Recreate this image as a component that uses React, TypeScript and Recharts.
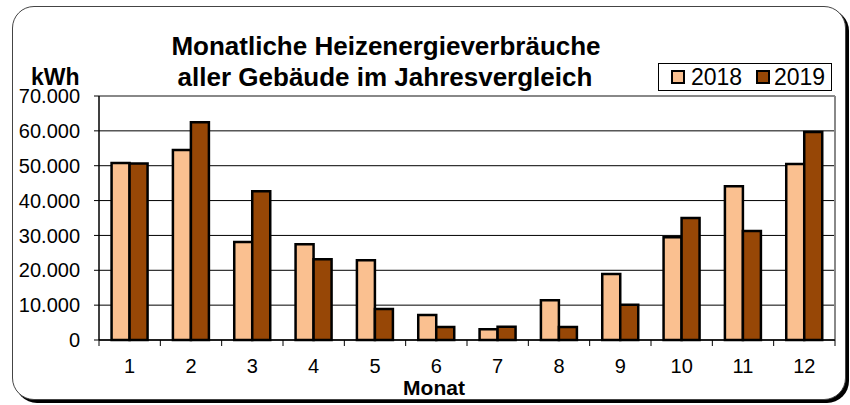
import React from 'react';
import { BarChart, Bar, XAxis, YAxis, CartesianGrid, Legend } from 'recharts';

const months = ['1', '2', '3', '4', '5', '6', '7', '8', '9', '10', '11', '12'];
const values2018 = [50800, 54500, 28100, 27500, 22900, 7200, 3100, 11400, 18900, 29500, 44100, 50500];
const values2019 = [50600, 62500, 42700, 23200, 8900, 3700, 3800, 3700, 10100, 35000, 31300, 59700];
const yTicks = [0, 10000, 20000, 30000, 40000, 50000, 60000, 70000];
const seriesNames = ['2018', '2019'];
const colors = ['#FAC090', '#974706'];

const data = months.map((m, i) => ({ month: m, y2018: values2018[i], y2019: values2019[i] }));

const W = 850;
const H = 405;
const M = { top: 96, right: 15, bottom: 35, left: 0 };
const Y_AXIS_W = 99;
const X_AXIS_H = 30;
const X_TICK_SIZE = 6;
const X_TICK_MARGIN = 13;
const BAND = (W - M.left - M.right - Y_AXIS_W) / months.length;
const FONT = "'Liberation Sans', Arial, Helvetica, sans-serif";

const fmt = (v: number) => String(v).replace(/\B(?=(\d{3})+(?!\d))/g, '.');

const XTick = (props: any) => {
  const { x, y, payload, index } = props;
  const axisY = y - X_TICK_SIZE - X_TICK_MARGIN;
  const last = index === months.length - 1;
  return (
    <g>
      <line x1={x - BAND / 2} x2={x - BAND / 2} y1={axisY} y2={axisY + X_TICK_SIZE} stroke="#000" strokeWidth={1} />
      {last && (
        <line x1={x + BAND / 2} x2={x + BAND / 2} y1={axisY} y2={axisY + X_TICK_SIZE} stroke="#000" strokeWidth={1} />
      )}
      <text x={x} y={y} dy="0.71em" textAnchor="middle" fontSize={20} fill="#000" fontFamily={FONT}>
        {payload.value}
      </text>
    </g>
  );
};

const LegendBox = () => (
  <div
    style={{
      position: 'relative',
      width: 172,
      height: 26,
      border: '1px solid #000',
      background: '#fff',
      fontFamily: FONT,
      fontSize: 23,
      color: '#000',
    }}
  >
    {seriesNames.map((n, i) => (
      <React.Fragment key={n}>
        <div
          style={{
            position: 'absolute',
            left: i === 0 ? 12 : 97,
            top: 6,
            width: 10,
            height: 10,
            border: '2px solid #000',
            background: colors[i],
          }}
        />
        <div style={{ position: 'absolute', left: i === 0 ? 32 : 115, top: 0, lineHeight: '26px' }}>{n}</div>
      </React.Fragment>
    ))}
  </div>
);

export default function App() {
  return (
    <div style={{ position: 'absolute', left: 0, top: 0, width: W, height: H, background: '#fff', fontFamily: FONT }}>
      <div
        style={{
          position: 'absolute',
          left: 12,
          top: 6,
          width: 832,
          height: 392,
          border: '1.5px solid #444',
          borderRadius: 22,
          boxShadow: '3px 3px 0 #000',
          background: '#fff',
        }}
      />
      <div style={{ position: 'absolute', left: 0, top: 0 }}>
        <BarChart width={W} height={H} data={data} margin={M} barCategoryGap="20.5%" barGap={0}>
          <CartesianGrid vertical={false} stroke="#000" strokeWidth={1} />
          <CartesianGrid
            stroke="#888"
            strokeWidth={2}
            horizontalCoordinatesGenerator={({ offset }: any) => [offset.top]}
            verticalCoordinatesGenerator={({ offset }: any) => [offset.left + offset.width]}
          />
          <XAxis
            dataKey="month"
            height={X_AXIS_H}
            axisLine={{ stroke: '#000', strokeWidth: 1.5 }}
            tickLine={false}
            tickSize={X_TICK_SIZE}
            tickMargin={X_TICK_MARGIN}
            tick={<XTick />}
            interval={0}
          />
          <YAxis
            width={Y_AXIS_W}
            domain={[0, 70000]}
            ticks={yTicks}
            tickFormatter={fmt}
            axisLine={{ stroke: '#000', strokeWidth: 1.5 }}
            tickLine={{ stroke: '#000' }}
            tickSize={5}
            tickMargin={14}
            tick={{ fill: '#000', fontSize: 20 }}
            interval={0}
          />
          <Legend
            layout="horizontal"
            verticalAlign="middle"
            align="center"
            content={<LegendBox />}
            wrapperStyle={{ position: 'absolute', left: 658, top: 63, width: 174, height: 28, right: 'auto', bottom: 'auto' }}
          />
          <Bar dataKey="y2018" name={seriesNames[0]} fill={colors[0]} stroke="#000" strokeWidth={2.5} isAnimationActive={false} />
          <Bar dataKey="y2019" name={seriesNames[1]} fill={colors[1]} stroke="#000" strokeWidth={2.5} isAnimationActive={false} />
        </BarChart>
      </div>
      <svg width={W} height={H} style={{ position: 'absolute', left: 0, top: 0, pointerEvents: 'none' }}>
        <text x={386} y={55} textAnchor="middle" fontSize={26} fontWeight="bold" fill="#000" fontFamily={FONT}>
          Monatliche Heizenergieverbräuche
        </text>
        <text x={385} y={86} textAnchor="middle" fontSize={26} fontWeight="bold" fill="#000" fontFamily={FONT}>
          aller Gebäude im Jahresvergleich
        </text>
        <text x={31} y={85} fontSize={23} fontWeight="bold" fill="#000" fontFamily={FONT}>
          kWh
        </text>
        <text x={434} y={395} textAnchor="middle" fontSize={21} fontWeight="bold" fill="#000" fontFamily={FONT}>
          Monat
        </text>
      </svg>
    </div>
  );
}
